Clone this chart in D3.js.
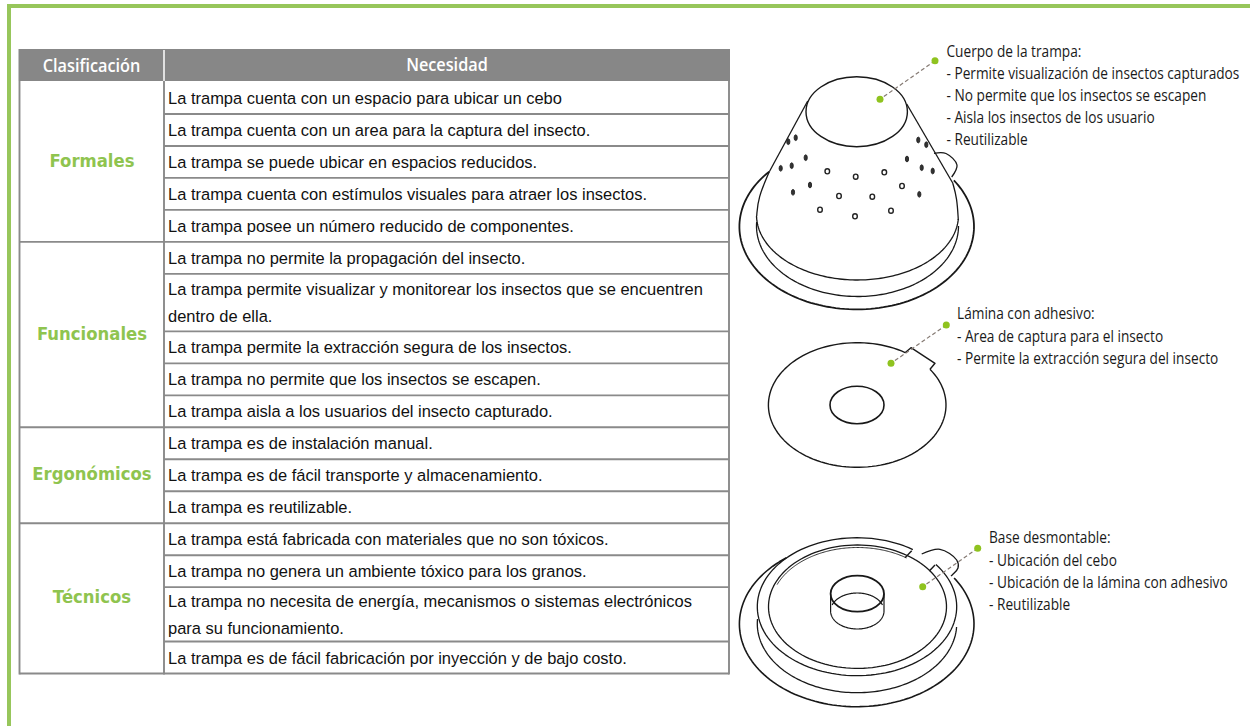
<!DOCTYPE html>
<html><head><meta charset="utf-8">
<script src="https://cdn.jsdelivr.net/npm/d3@7/dist/d3.min.js"></script>
<style>html,body{margin:0;padding:0;background:#fff}svg{display:block}</style>
</head><body><svg id="c" width="1250" height="726"></svg>
<script>
const headers = ["Clasificación", "Necesidad"];
const groups = ["Formales", "Funcionales", "Ergonómicos", "Técnicos"];
const groupCounts = [5, 5, 3, 4];
const needs = [
 "La trampa cuenta con un espacio para ubicar un cebo",
 "La trampa cuenta con un area para la captura del insecto.",
 "La trampa se puede ubicar en espacios reducidos.",
 "La trampa cuenta con estímulos visuales para atraer los insectos.",
 "La trampa posee un número reducido de componentes.",
 "La trampa no permite la propagación del insecto.",
 "La trampa permite visualizar y monitorear los insectos que se encuentren|dentro de ella.",
 "La trampa permite la extracción segura de los insectos.",
 "La trampa no permite que los insectos se escapen.",
 "La trampa aisla a los usuarios del insecto capturado.",
 "La trampa es de instalación manual.",
 "La trampa es de fácil transporte y almacenamiento.",
 "La trampa es reutilizable.",
 "La trampa está fabricada con materiales que no son tóxicos.",
 "La trampa no genera un ambiente tóxico para los granos.",
 "La trampa no necesita de energía, mecanismos o sistemas electrónicos|para su funcionamiento.",
 "La trampa es de fácil fabricación por inyección y de bajo costo."
];
const rowUnits = [1,1,1,1,1,1,1.8,1,1,1,1,1,1,1,1,1.7,1];
const notes = [
 {x:946.5, y:[57,79,101,123,144.5], lines:["Cuerpo de la trampa:","- Permite visualización de insectos capturados","- No permite que los insectos se escapen","- Aisla los insectos de los usuario","- Reutilizable"]},
 {x:957, y:[319,342,364], lines:["Lámina con adhesivo:","- Area de captura para el insecto","- Permite la extracción segura del insecto"]},
 {x:989, y:[543,566,588,610], lines:["Base desmontable:","- Ubicación del cebo","- Ubicación de la lámina con adhesivo","- Reutilizable"]}
];
const callouts = [[935,60.7,880,99.3],[946.3,325,891,363.3],[977.7,548.3,922.7,586.7]];
const holesDark = [[788.3,141.7],[795.7,137.7],[780.7,168.3],[791.7,165.7],[805.7,157.7],[810,185],[793,192.3],[918.3,140],[926.3,144.7],[907,159],[921.7,167.7],[932.7,171],[919.3,194.3]];
const holesOpen = [[827.3,171.3],[855.7,176.7],[884.3,172.3],[902,186],[839,196],[872.3,196.7],[820,209.7],[855,216.3],[891,210.7]];

const svg = d3.select("#c");
const GREEN = "#97c65b", GREY = "#8a8a8a", INK = "#181818";

// frame
svg.append("rect").attr("x",7).attr("y",4).attr("width",1243).attr("height",4).attr("fill",GREEN);
svg.append("rect").attr("x",7).attr("y",4).attr("width",4).attr("height",722).attr("fill",GREEN);

function label(g,x,y,s,o){
  return g.append("text").attr("transform",`translate(${x},${y}) scale(${o.sx||1},1)`)
   .attr("font-family",o.f).attr("font-size",o.s).attr("font-weight",o.w||400)
   .attr("fill",o.c||"#111").attr("text-anchor",o.a||"start").text(s);
}

// table
const cum = [0]; rowUnits.forEach(u=>cum.push(cum[cum.length-1]+u));
const y = d3.scaleLinear().domain([0,cum[cum.length-1]]).range([82,673.5]);
const X0=19.5, X1=164, X2=729, HT=49, HB=81;
const t = svg.append("g");
t.append("rect").attr("x",X0-1).attr("y",HT).attr("width",X2-X0+2).attr("height",HB-HT).attr("fill","#878787");
t.append("line").attr("x1",X1).attr("x2",X1).attr("y1",HT+1).attr("y2",HB).attr("stroke","#fff").attr("stroke-width",1.5);
label(t,91.5,71.5,headers[0],{f:"'Open Sans'",s:18.5,w:600,c:"#fff",a:"middle",sx:0.88});
label(t,447,71,headers[1],{f:"'Open Sans'",s:18.5,w:600,c:"#fff",a:"middle",sx:0.88});

t.selectAll("line.row").data(cum.slice(1)).join("line").attr("class","row")
 .attr("x1",X1).attr("x2",X2).attr("y1",d=>y(d)).attr("y2",d=>y(d)).attr("stroke",GREY).attr("stroke-width",1.9);

let start=0; const spans=groupCounts.map(n=>{const a=cum[start],b=cum[start+n];start+=n;return [a,b];});
t.selectAll("line.grp").data(spans).join("line").attr("class","grp")
 .attr("x1",X0).attr("x2",X1).attr("y1",d=>y(d[1])).attr("y2",d=>y(d[1])).attr("stroke",GREY).attr("stroke-width",1.9);
[[X0],[X1],[X2]].forEach(([x])=>t.append("line").attr("x1",x).attr("x2",x).attr("y1",HB).attr("y2",y(cum[cum.length-1])+.9).attr("stroke",GREY).attr("stroke-width",1.9));

groups.forEach((g,i)=>{
  const c=(y(spans[i][0])+y(spans[i][1]))/2;
  label(t,92,c+5,g,{f:"'DejaVu Sans'",s:17,w:700,c:"#8fc44f",a:"middle",sx:0.97});
});
needs.forEach((n,i)=>{
  const parts=n.split("|"), c=(y(cum[i])+y(cum[i+1]))/2;
  parts.forEach((p,j)=>{
    const by = parts.length===1 ? c+6 : c+6+(j-.5)*26.5;
    label(t,168,by,p,{f:"'Liberation Sans'",s:17,c:"#111",sx:0.97});
  });
});

// annotation text
notes.forEach(n=>n.lines.forEach((l,i)=>label(svg,n.x,n.y[i],l,{f:"'Open Sans'",s:16,c:"#1a1a1a",sx:0.855})));

// drawing helpers
const lineGen=d3.line();
const ang=(e,p)=>Math.atan2((p[1]-e.cy)/e.ry,(p[0]-e.cx)/e.rx);
function arc(e,a,b,dir,w){ // dir 1: clockwise on screen
  let t0=ang(e,a),t1=ang(e,b);
  if(dir>0&&t1<t0)t1+=2*Math.PI; if(dir<0&&t1>t0)t1-=2*Math.PI;
  const pts=d3.range(0,121).map(i=>{const t=t0+(t1-t0)*i/120;return [e.cx+e.rx*Math.cos(t),e.cy+e.ry*Math.sin(t)];});
  return stroke(pts,w);
}
function stroke(pts,w,curve){
  return svg.append("path").attr("d",(curve?d3.line().curve(curve):lineGen)(pts)).attr("fill","none")
    .attr("stroke",INK).attr("stroke-width",w||1.3).attr("stroke-linejoin","round");
}
function ellipse(e,w){return svg.append("ellipse").attr("cx",e.cx).attr("cy",e.cy).attr("rx",e.rx).attr("ry",e.ry)
  .attr("fill","none").attr("stroke",INK).attr("stroke-width",w||1.3);}

// trap body
const flange={cx:856.7,cy:226.7,rx:117.3,ry:82.7};
arc(flange,[769.3,171.7],[952.7,181],-1,1.8);
const tip={cx:856.7,cy:111.7,rx:50.7,ry:35};
ellipse(tip,1.4);
stroke([[807.7,101],[769.3,171.7]],1.3);
stroke([[769.3,171.7],[758,198],[756.7,216]],1.3,d3.curveBasis);
stroke([[906.7,104],[952.7,183]],1.3);
stroke([[952.7,183],[957,198],[958.3,220]],1.3,d3.curveBasis);
const lip={cx:857.5,cy:215,rx:101,ry:65};
arc(lip,[756.7,216],[958.3,219],-1,1.3);
const wall={cx:857.5,cy:226,rx:101,ry:70.5};
arc(wall,[756.7,222],[958.3,226],-1,1.3);
stroke([[934,153.3],[946,153.5],[957,165],[951.7,177]],1.3,d3.curveCatmullRom);
svg.selectAll("ellipse.hd").data(holesDark).join("ellipse").attr("class","hd")
  .attr("cx",d=>d[0]).attr("cy",d=>d[1]).attr("rx",1.6).attr("ry",2.9)
  .attr("fill","#333").attr("stroke","#222").attr("stroke-width",.9);
svg.selectAll("ellipse.ho").data(holesOpen).join("ellipse").attr("class","ho")
  .attr("cx",d=>d[0]).attr("cy",d=>d[1]).attr("rx",2.3).attr("ry",2.6)
  .attr("fill","#fff").attr("stroke","#222").attr("stroke-width",1.4);

// sheet
const sheet={cx:857.2,cy:405,rx:88.8,ry:62.3};
arc(sheet,[930,369.3],[905,352.7],1,1.4);
stroke([[905,352.7],[911,347.7],[935,363.3],[930,369.3]],1.4);
ellipse({cx:857,cy:405,rx:27,ry:18.7},1.6);

// base
const bFlange={cx:856.7,cy:624,rx:117.3,ry:82.7};
arc(bFlange,[786.7,558],[954,578],-1,1.6);
const ringOut={cx:857,cy:606.7,rx:99.7,ry:69};
arc(ringOut,[911.7,550.7],[935,565],-1,1.3);
const ringIn={cx:857.5,cy:606.7,rx:89,ry:61.7};
arc(ringIn,[905,557.7],[929.3,571],-1,1.3);
const ringIn2={cx:857.5,cy:607.5,rx:87,ry:60};
arc(ringIn2,[905,559.5],[775,584],-1,.9);
stroke([[911.7,550.7],[905,557.7]],1.4);
stroke([[935,565],[929.3,571]],1.4);
arc(ringIn,[905,557.7],[929.3,571],1,1.3);
const ringLow={cx:857,cy:623.7,rx:99.7,ry:69};
arc(ringLow,[757.4,619],[956.6,627],-1,1.3);
stroke([[921.7,554],[940,549.3],[956.7,560],[958,568],[951,576]],1.3,d3.curveCatmullRom);
const cyl={cx:857.3,cy:593.7,rx:26.7,ry:18};
ellipse(cyl,1.8);
stroke([[830.6,593.7],[830.6,611]],1.2);
stroke([[884,593.7],[884,611]],1.2);
const cylB={cx:857.3,cy:611,rx:26.7,ry:18};
arc(cylB,[830.6,611],[884,611],-1,1.2);
arc(cylB,[832,605],[882.6,605],1,1.2);

// callouts
svg.selectAll("line.co").data(callouts).join("line").attr("class","co")
 .attr("x1",d=>d[0]).attr("y1",d=>d[1]).attr("x2",d=>d[2]).attr("y2",d=>d[3])
 .attr("stroke","#857a73").attr("stroke-width",1.2).attr("stroke-dasharray","4,2.5");
const dots=callouts.flatMap(c=>[[c[0],c[1]],[c[2],c[3]]]);
svg.selectAll("circle.dot").data(dots).join("circle").attr("class","dot")
 .attr("cx",d=>d[0]).attr("cy",d=>d[1]).attr("r",3.5).attr("fill","#8fc31f");
</script></body></html>
